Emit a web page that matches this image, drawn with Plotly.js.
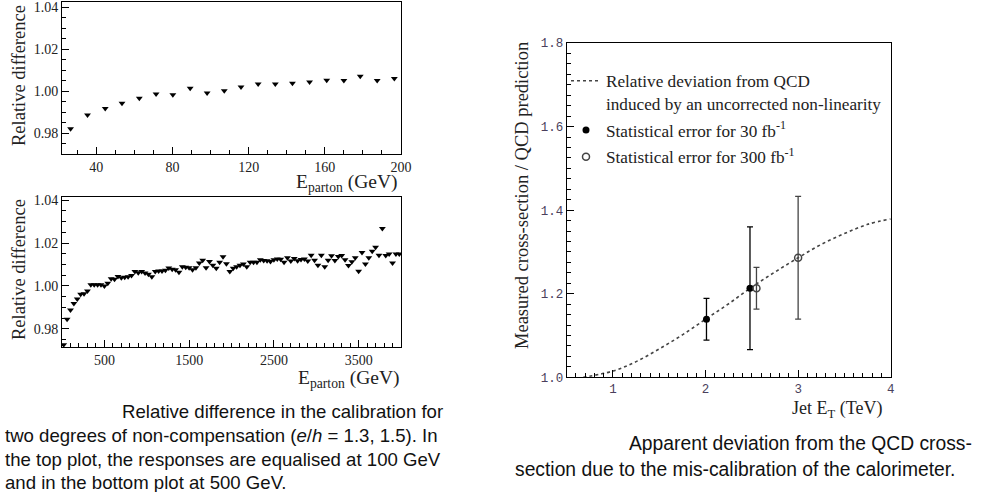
<!DOCTYPE html>
<html>
<head>
<meta charset="utf-8">
<script src="https://cdn.plot.ly/plotly-3.0.1.min.js"></script>
<style>html,body{margin:0;padding:0;background:#fff;}#chart{width:985px;height:492px;}</style>
</head>
<body>
<div id="chart"></div>
<script>
// ---- Top-left panel (responses equalised at 100 GeV) ----
const topX = [26.5, 35.4, 44.7, 53.5, 62.6, 71.4, 80.2, 89.3, 98.2, 107.2, 116, 125, 134, 143, 152, 161, 170, 178.6, 187.5, 196.5];
const topY = [0.982, 0.9886, 0.9917, 0.9942, 0.9966, 0.9986, 0.9983, 1.0014, 0.9991, 1.0002, 1.002, 1.0034, 1.0034, 1.0038, 1.0043, 1.0052, 1.0051, 1.0071, 1.0051, 1.006];

// ---- Bottom-left panel (responses equalised at 500 GeV) ----
const botX = [20, 60, 100, 140, 180, 220, 260, 300, 340, 380, 420, 460, 500, 540, 580, 620, 660, 700, 740, 780,
  820, 860, 900, 940, 980, 1020, 1060, 1100, 1140, 1180, 1220, 1260, 1300, 1340, 1380, 1420, 1460, 1500, 1540, 1580,
  1620, 1660, 1700, 1740, 1780, 1820, 1860, 1900, 1940, 1980, 2020, 2060, 2100, 2140, 2180, 2220, 2260, 2300, 2340, 2380,
  2420, 2460, 2500, 2540, 2580, 2620, 2660, 2700, 2740, 2780, 2820, 2860, 2900, 2940, 2980, 3020, 3060, 3100, 3140, 3180,
  3220, 3260, 3300, 3340, 3380, 3420, 3460, 3500, 3540, 3580, 3620, 3660, 3700, 3740, 3780, 3820, 3860, 3900, 3940, 3980];
const botY = [0.9726, 0.9845, 0.9888, 0.9918, 0.9939, 0.9961, 0.9964, 0.9976, 1.0005, 1.0005, 1.0006, 1.0006, 1.0000, 1.0012, 1.0034, 1.0031, 1.0044, 1.0038, 1.0040, 1.0043,
  1.0049, 1.0067, 1.0061, 1.0067, 1.0060, 1.0054, 1.0043, 1.0067, 1.0070, 1.0070, 1.0073, 1.0084, 1.0078, 1.0076, 1.0064, 1.0090, 1.0087, 1.0085, 1.0076, 1.0085,
  1.0107, 1.0120, 1.0085, 1.0114, 1.0096, 1.0082, 1.0111, 1.0136, 1.0104, 1.0067, 1.0082, 1.0089, 1.0096, 1.0102, 1.0090, 1.0111, 1.0111, 1.0111, 1.0122, 1.0119,
  1.0117, 1.0114, 1.0122, 1.0126, 1.0125, 1.0110, 1.0131, 1.0116, 1.0128, 1.0117, 1.0123, 1.0126, 1.0116, 1.0143, 1.0120, 1.0096, 1.0143, 1.0089, 1.0120, 1.0141,
  1.0119, 1.0137, 1.0142, 1.0122, 1.0095, 1.0113, 1.0131, 1.0068, 1.0156, 1.0102, 1.0131, 1.0162, 1.0180, 1.0143, 1.0268, 1.0142, 1.0149, 1.0107, 1.0149, 1.0149];

// ---- Right panel ----
const curveX = [0.68, 1.0, 1.25, 1.5, 1.75, 2.0, 2.25, 2.5, 2.75, 3.0, 3.25, 3.5, 3.75, 4.0];
const curveY = [1.0, 1.015, 1.0375, 1.068, 1.1016, 1.139, 1.176, 1.216, 1.252, 1.286, 1.318, 1.344, 1.366, 1.379];
const stat30X = [2.01, 2.48];
const stat30Y = [1.139, 1.213];
const stat30Err = [0.05, 0.147];
const stat300X = [2.55, 3.0];
const stat300Y = [1.213, 1.286];
const stat300Err = [0.05, 0.147];

const leftYTicks = [0.98, 1.00, 1.02, 1.04];
const leftYText = ['0.98', '1.00', '1.02', '1.04'];
const topXTicks = [40, 80, 120, 160, 200];
const botXTicks = [500, 1500, 2500, 3500];
const rightYTicks = [1.0, 1.2, 1.4, 1.6, 1.8];
const rightYText = ['1.0', '1.2', '1.4', '1.6', '1.8'];
const rightXTicks = [1, 2, 3, 4];

const W = 985, H = 492;
const px = v => v / W;
const py = v => 1 - v / H;

const SERIF = 'Liberation Serif, Times New Roman, serif';
const SANS = 'Liberation Sans, Arial, sans-serif';
const MONO = 'Liberation Mono, Courier New, monospace';

const traces = [
  {x: topX, y: topY, xaxis: 'x', yaxis: 'y', mode: 'markers', type: 'scatter', showlegend: false,
   marker: {symbol: 'triangle-down', size: 6, color: '#000'}},
  {x: botX, y: botY, xaxis: 'x2', yaxis: 'y2', mode: 'markers', type: 'scatter', showlegend: false,
   marker: {symbol: 'triangle-down', size: 6, color: '#000'}},
  {x: curveX, y: curveY, xaxis: 'x3', yaxis: 'y3', mode: 'lines', type: 'scatter', legendgroup: 'a',
   name: 'Relative deviation from QCD<br>induced by an uncorrected non-linearity',
   line: {color: '#444', width: 1.6, dash: 'dot', shape: 'spline'}},
  {x: stat30X, y: stat30Y, xaxis: 'x3', yaxis: 'y3', mode: 'markers', type: 'scatter', legendgroup: 'b',
   name: 'Statistical error for 30 fb<sup>-1</sup>',
   marker: {symbol: 'circle', size: 7, color: '#000'},
   error_y: {type: 'data', array: stat30Err, visible: true, color: '#000', thickness: 1.3, width: 3}},
  {x: stat300X, y: stat300Y, xaxis: 'x3', yaxis: 'y3', mode: 'markers', type: 'scatter', legendgroup: 'c',
   name: 'Statistical error for 300 fb<sup>-1</sup>',
   marker: {symbol: 'circle-open', size: 7, color: '#444', line: {width: 1.5, color: '#444'}},
   error_y: {type: 'data', array: stat300Err, visible: true, color: '#444', thickness: 1.3, width: 3}}
];

const axBase = {showline: true, mirror: true, linecolor: '#000', linewidth: 1, showgrid: false, zeroline: false,
  ticks: 'inside', tickcolor: '#000', ticklen: 7, tickwidth: 1, fixedrange: true, ticklabeloverflow: 'allow'};
const leftTickFont = {family: SERIF, size: 14, color: '#222'};

const titleFont = {family: SERIF, size: 18.5, color: '#222'};
const capL = {family: SANS, size: 18.6, color: '#111'};
const capR = {family: SANS, size: 19.3, color: '#111'};

const layout = {
  width: W, height: H, autosize: false,
  margin: {l: 0, r: 0, t: 0, b: 0, pad: 0},
  paper_bgcolor: '#fff', plot_bgcolor: '#fff',
  font: {family: SERIF, color: '#222'},
  xaxis: Object.assign({}, axBase, {domain: [px(62), px(401)], range: [22, 200], anchor: 'y',
    tickmode: 'array', tickvals: topXTicks, tickfont: leftTickFont,
    minor: {tickmode: 'linear', tick0: 0, dtick: 10, ticks: 'inside', ticklen: 4, tickcolor: '#000'}}),
  yaxis: Object.assign({}, axBase, {domain: [py(154), py(2)], range: [0.97, 1.0425], anchor: 'x',
    tickmode: 'array', tickvals: leftYTicks, ticktext: leftYText, tickfont: leftTickFont,
    minor: {tickmode: 'linear', tick0: 0, dtick: 0.005, ticks: 'inside', ticklen: 4, tickcolor: '#000'}}),
  xaxis2: Object.assign({}, axBase, {domain: [px(62), px(401)], range: [0, 4000], anchor: 'y2',
    tickmode: 'array', tickvals: botXTicks, tickfont: leftTickFont,
    minor: {tickmode: 'linear', tick0: 0, dtick: 100, ticks: 'inside', ticklen: 4, tickcolor: '#000'}}),
  yaxis2: Object.assign({}, axBase, {domain: [py(347), py(197)], range: [0.9715, 1.0415], anchor: 'x2',
    tickmode: 'array', tickvals: leftYTicks, ticktext: leftYText, tickfont: leftTickFont,
    minor: {tickmode: 'linear', tick0: 0, dtick: 0.005, ticks: 'inside', ticklen: 4, tickcolor: '#000'}}),
  xaxis3: Object.assign({}, axBase, {domain: [px(566.7), px(890.7)], range: [0.5, 4], anchor: 'y3',
    tickmode: 'array', tickvals: rightXTicks,
    tickfont: {family: MONO, size: 12.5, color: '#4a3f5c'},
    minor: {tickmode: 'linear', tick0: 0, dtick: 0.1, ticks: 'inside', ticklen: 4, tickcolor: '#000'}}),
  yaxis3: Object.assign({}, axBase, {domain: [py(377.3), py(43)], range: [1.0, 1.8], anchor: 'x3',
    tickmode: 'array', tickvals: rightYTicks, ticktext: rightYText,
    tickfont: {family: MONO, size: 12.5, color: '#4a3f5c'},
    minor: {tickmode: 'linear', tick0: 0, dtick: 0.025, ticks: 'inside', ticklen: 4, tickcolor: '#000'}}),
  showlegend: true,
  legend: {x: px(566), y: py(63), xanchor: 'left', yanchor: 'top', bgcolor: 'rgba(0,0,0,0)',
    font: {family: SERIF, size: 17.2, color: '#222'}, valign: 'top', itemwidth: 30, tracegroupgap: 1.5},
  annotations: [
    {text: 'Relative difference', x: px(19), y: py(76), xref: 'paper', yref: 'paper', textangle: -90,
     xanchor: 'center', yanchor: 'middle', showarrow: false, font: titleFont},
    {text: 'Relative difference', x: px(19), y: py(270), xref: 'paper', yref: 'paper', textangle: -90,
     xanchor: 'center', yanchor: 'middle', showarrow: false, font: titleFont},
    {text: 'E<sub>parton</sub> (GeV)', x: px(399), y: py(183), xref: 'paper', yref: 'paper', xanchor: 'right', yanchor: 'middle',
     showarrow: false, font: {family: SERIF, size: 19.5, color: '#222'}},
    {text: 'E<sub>parton</sub> (GeV)', x: px(401), y: py(379), xref: 'paper', yref: 'paper', xanchor: 'right', yanchor: 'middle',
     showarrow: false, font: {family: SERIF, size: 19.5, color: '#222'}},
    {text: 'Measured cross-section / QCD prediction', x: px(522), y: py(196), xref: 'paper', yref: 'paper', textangle: -90,
     xanchor: 'center', yanchor: 'middle', showarrow: false, font: titleFont},
    {text: 'Jet E<sub>T</sub> (TeV)', x: px(884), y: py(409), xref: 'paper', yref: 'paper', xanchor: 'right', yanchor: 'middle',
     showarrow: false, font: {family: SERIF, size: 18, color: '#222'}},
    {text: 'Relative difference in the calibration for', x: px(445), y: py(411), xref: 'paper', yref: 'paper', xanchor: 'right', yanchor: 'middle',
     showarrow: false, font: capL},
    {text: 'two degrees of non-compensation (<i>e</i>/<i>h</i> = 1.3, 1.5). In', x: px(3), y: py(435), xref: 'paper', yref: 'paper', xanchor: 'left', yanchor: 'middle',
     showarrow: false, font: capL},
    {text: 'the top plot, the responses are equalised at 100 GeV', x: px(3), y: py(459), xref: 'paper', yref: 'paper', xanchor: 'left', yanchor: 'middle',
     showarrow: false, font: capL},
    {text: 'and in the bottom plot at 500 GeV.', x: px(3), y: py(482), xref: 'paper', yref: 'paper', xanchor: 'left', yanchor: 'middle',
     showarrow: false, font: capL},
    {text: 'Apparent deviation from the QCD cross-', x: px(974), y: py(443), xref: 'paper', yref: 'paper', xanchor: 'right', yanchor: 'middle',
     showarrow: false, font: capR},
    {text: 'section due to the mis-calibration of the calorimeter.', x: px(513), y: py(469), xref: 'paper', yref: 'paper', xanchor: 'left', yanchor: 'middle',
     showarrow: false, font: capR}
  ]
};

Plotly.newPlot('chart', traces, layout, {displayModeBar: false, staticPlot: true});
</script>
</body>
</html>
